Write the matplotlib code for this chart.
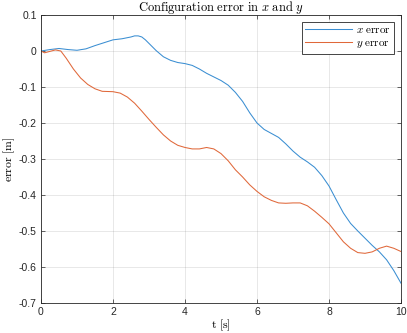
import matplotlib
matplotlib.use("Agg")
import matplotlib.pyplot as plt

# values
t_x = [0.0, 0.25, 0.5, 0.75, 1.0, 1.25, 1.5, 1.75, 2.0, 2.25, 2.5, 2.6, 2.7, 2.8,
       2.9, 3.0, 3.2, 3.4, 3.6, 3.8, 4.0, 4.2, 4.4, 4.6, 4.8, 5.0, 5.2, 5.4, 5.6,
       5.8, 6.0, 6.2, 6.4, 6.6, 6.8, 7.0, 7.2, 7.4, 7.6, 7.8, 8.0, 8.2, 8.4, 8.6,
       8.8, 9.0, 9.2, 9.4, 9.6, 9.8, 10.0]
x_err = [0.0, 0.004, 0.007, 0.004, 0.002, 0.006, 0.015, 0.023, 0.031, 0.034, 0.039,
         0.042, 0.042, 0.039, 0.031, 0.021, 0.001, -0.016, -0.026, -0.032, -0.035,
         -0.040, -0.050, -0.062, -0.072, -0.082, -0.095, -0.115, -0.140, -0.172,
         -0.200, -0.218, -0.229, -0.240, -0.258, -0.278, -0.295, -0.308, -0.323,
         -0.346, -0.375, -0.413, -0.450, -0.479, -0.500, -0.520, -0.540, -0.558,
         -0.580, -0.610, -0.645]

t_y = [0.0, 0.1, 0.25, 0.4, 0.55, 0.7, 0.9, 1.1, 1.3, 1.5, 1.7, 2.0, 2.2, 2.4, 2.6,
       2.8, 3.0, 3.2, 3.4, 3.6, 3.8, 4.0, 4.2, 4.4, 4.6, 4.8, 5.0, 5.2, 5.4, 5.6,
       5.8, 6.0, 6.2, 6.4, 6.6, 6.8, 7.0, 7.2, 7.4, 7.6, 7.8, 8.0, 8.2, 8.4, 8.6,
       8.8, 9.0, 9.2, 9.4, 9.6, 9.8, 10.0]
y_err = [0.0, -0.005, -0.001, 0.003, 0.0, -0.020, -0.050, -0.075, -0.093, -0.105,
         -0.112, -0.113, -0.117, -0.128, -0.145, -0.167, -0.190, -0.212, -0.233,
         -0.250, -0.262, -0.268, -0.272, -0.272, -0.268, -0.272, -0.285, -0.305,
         -0.330, -0.350, -0.372, -0.390, -0.405, -0.415, -0.422, -0.423, -0.422,
         -0.422, -0.430, -0.445, -0.462, -0.480, -0.505, -0.530, -0.548, -0.560,
         -0.562, -0.558, -0.548, -0.542, -0.548, -0.557]

xticks = [0, 2, 4, 6, 8, 10]
yticks = [0.1, 0, -0.1, -0.2, -0.3, -0.4, -0.5, -0.6, -0.7]
ytick_labels = ["0.1", "0", "-0.1", "-0.2", "-0.3", "-0.4", "-0.5", "-0.6", "-0.7"]

plt.rcParams["mathtext.fontset"] = "cm"
plt.rcParams["font.family"] = ["Liberation Sans", "DejaVu Sans"]

fig = plt.figure(figsize=(4.07, 3.33), dpi=100)
ax = fig.add_axes([41 / 407, 30 / 333, 360 / 407, 288 / 333])

ax.plot(t_x, x_err, color="#3A8ED2", lw=0.75, label=r"$x\ \mathrm{error}$")
ax.plot(t_y, y_err, color="#E0683A", lw=0.75, label=r"$y\ \mathrm{error}$")

ax.set_xlim(0, 10)
ax.set_ylim(-0.7, 0.1)
ax.set_xticks(xticks)
ax.set_yticks(yticks)
ax.set_yticklabels(ytick_labels)
ax.tick_params(direction="in", length=3, width=0.5, labelsize=7.5, colors="#262626",
               top=True, right=True, pad=3)
ax.grid(True, color="#262626", alpha=0.12, lw=0.6)
for s in ax.spines.values():
    s.set_color("#262626")
    s.set_linewidth(0.6)

ax.set_xlabel(r"$\mathrm{t\ [s]}$", fontsize=8.5, labelpad=0)
ax.set_ylabel(r"$\mathrm{error\ [m]}$", fontsize=8.5, labelpad=1)
ax.set_title(r"$\mathrm{Configuration\ error\ in\ }x\mathrm{\ and\ }y$", fontsize=9, pad=3)

leg = ax.legend(loc="upper right", fontsize=8, fancybox=False, framealpha=1,
                edgecolor="#262626", handlelength=4.2, borderpad=0.3,
                labelspacing=0.3, handletextpad=0.4, borderaxespad=0.6)
leg.get_frame().set_linewidth(0.6)

fig.savefig("out.png", dpi=100)
